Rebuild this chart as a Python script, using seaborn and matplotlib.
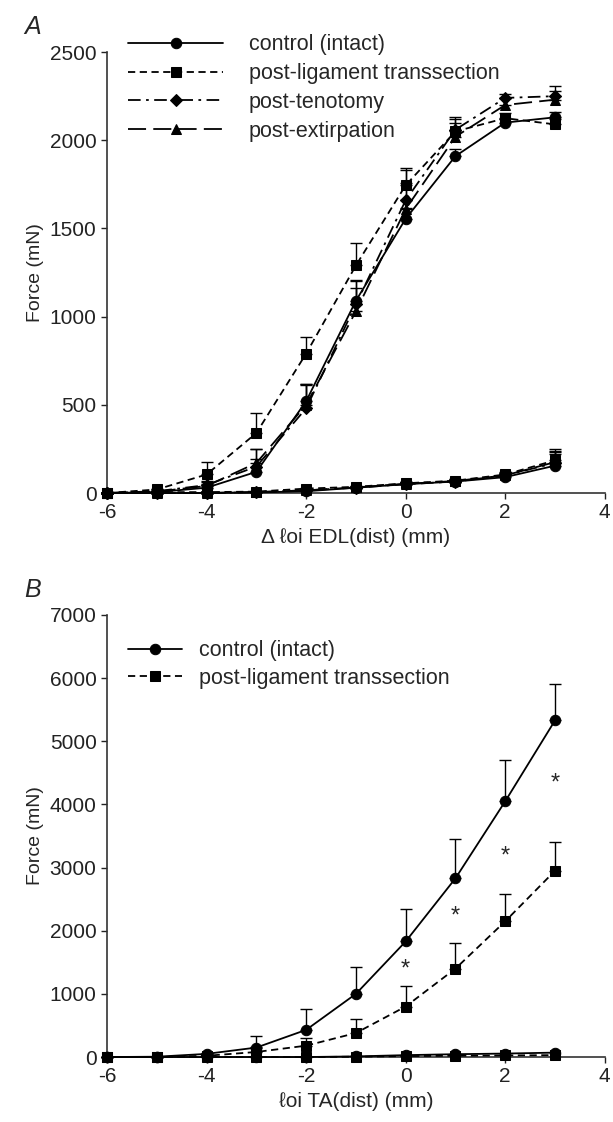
import numpy as np
import matplotlib
matplotlib.use("Agg")
import matplotlib.pyplot as plt
import seaborn as sns

# muscle length change (mm)
x_mm = [-6, -5, -4, -3, -2, -1, 0, 1, 2, 3]

# panel A, EDL: active force (mN) and upper SEM
a_ctrl = [0, 5, 30, 120, 520, 1090, 1555, 1910, 2100, 2130]
a_ctrl_sem = [0, 0, 20, 70, 90, 110, 60, 40, 20, 30]
a_lig = [0, 20, 105, 340, 790, 1290, 1745, 2050, 2125, 2090]
a_lig_sem = [0, 0, 70, 113, 95, 125, 100, 70, 30, 30]
a_ten = [0, 10, 45, 150, 480, 1070, 1660, 2060, 2240, 2250]
a_ten_sem = [0, 0, 25, 100, 140, 140, 170, 70, 20, 60]
a_ext = [0, 8, 40, 170, 500, 1030, 1610, 2020, 2200, 2230]
a_ext_sem = [0, 0, 25, 80, 120, 130, 150, 80, 40, 50]

# panel A, passive force
p_ctrl = [0, 0, 0, 3, 10, 30, 50, 65, 90, 155]
p_lig = [0, 5, 5, 8, 25, 35, 55, 70, 105, 185]
p_ten = [0, 0, 0, 5, 15, 30, 50, 65, 100, 170]
p_ext = [0, 0, 0, 5, 15, 32, 52, 68, 100, 175]
p_sem = [0, 0, 0, 0, 5, 5, 10, 10, 15, 65]

# panel B, TA
b_ctrl = [0, 5, 50, 150, 430, 1000, 1830, 2830, 4050, 5330]
b_ctrl_sem = [0, 0, 20, 190, 330, 420, 520, 630, 660, 570]
b_lig = [0, 0, 20, 80, 180, 380, 800, 1400, 2150, 2950]
b_lig_sem = [0, 0, 10, 80, 120, 230, 330, 400, 430, 450]
b_p_ctrl = [0, 0, 0, 0, 0, 10, 30, 45, 55, 70]
b_p_lig = [0, 0, 0, 0, 0, 5, 15, 20, 25, 30]

# significance stars in B
star_x = [0, 1, 2, 3]
star_y = [1390, 2220, 3180, 4330]

labels_a = ["control (intact)", "post-ligament transsection",
            "post-tenotomy", "post-extirpation"]

sns.set_style("ticks")
plt.rcParams["font.family"] = ["Liberation Sans", "DejaVu Sans"]
plt.rcParams["axes.unicode_minus"] = False

solid = "-"
short_dash = (0, (4, 2.5))
dash_dot = (0, (7, 3, 1.5, 3))
long_dash = (0, (10, 4))

fig = plt.figure(figsize=(6.13, 11.22), dpi=100)
axA = fig.add_axes([0.1746, 0.5606, 0.812, 0.393])
axB = fig.add_axes([0.1746, 0.0579, 0.812, 0.394])


def series(ax, y, sem, ls, mk, label=None):
    ms = 6.5 if mk in ("s", "D") else 7.5
    sns.lineplot(x=x_mm, y=y, ax=ax, color="k", linestyle=ls, marker=mk,
                 markersize=ms, markeredgecolor="k", linewidth=1.3,
                 label=label, clip_on=False, zorder=3)
    if sem is not None:
        ax.errorbar(x_mm, y, yerr=[np.zeros(len(sem)), sem], fmt="none",
                    ecolor="k", elinewidth=1, capsize=4.5, capthick=1,
                    clip_on=False, zorder=2)


# panel A
styles_a = [(solid, "o"), (short_dash, "s"), (dash_dot, "D"), (long_dash, "^")]
act_a = [(a_ctrl, a_ctrl_sem), (a_lig, a_lig_sem), (a_ten, a_ten_sem), (a_ext, a_ext_sem)]
pas_a = [p_ctrl, p_lig, p_ten, p_ext]
for (ls, mk), (y, s), lab in zip(styles_a, act_a, labels_a):
    series(axA, y, s, ls, mk, lab)
for (ls, mk), y in zip(styles_a, pas_a):
    series(axA, y, p_sem, ls, mk)

# panel B
series(axB, b_ctrl, b_ctrl_sem, solid, "o", labels_a[0])
series(axB, b_lig, b_lig_sem, short_dash, "s", labels_a[1])
series(axB, b_p_ctrl, None, solid, "o")
series(axB, b_p_lig, None, short_dash, "s")
for sx, sy in zip(star_x, star_y):
    axB.text(sx, sy, "*", ha="center", va="center", fontsize=17)

for ax in (axA, axB):
    ax.set_xlim(-6, 4)
    ax.set_xticks([-6, -4, -2, 0, 2, 4])
    sns.despine(ax=ax)
    ax.tick_params(labelsize=15, length=4, width=1, direction="out", colors="#222222")
    for sp in ("left", "bottom"):
        ax.spines[sp].set_linewidth(1.2)
        ax.spines[sp].set_color("#333333")
    ax.set_ylabel("Force (mN)", fontsize=14)

axA.set_ylim(0, 2500)
axA.set_yticks(range(0, 2501, 500))
axA.set_xlabel("Δ ℓoi EDL(dist) (mm)", fontsize=15)
axB.set_ylim(0, 7000)
axB.set_yticks(range(0, 7001, 1000))
axB.set_xlabel("ℓoi TA(dist) (mm)", fontsize=15)

hA, lA = axA.get_legend_handles_labels()
axA.legend(hA[:4], lA[:4], loc="upper left", bbox_to_anchor=(0.195, 0.977),
           bbox_transform=fig.transFigure, frameon=False, fontsize=15.5,
           handlelength=4.4, handletextpad=1.2, labelspacing=0.36, borderaxespad=0)
hB, lB = axB.get_legend_handles_labels()
axB.legend(hB[:2], lB[:2], loc="upper left", bbox_to_anchor=(0.195, 0.437),
           bbox_transform=fig.transFigure, frameon=False, fontsize=15.5,
           handlelength=2.5, handletextpad=0.8, labelspacing=0.3, borderaxespad=0)

fig.text(0.04, 0.976, "A", fontsize=18, style="italic", va="center")
fig.text(0.04, 0.474, "B", fontsize=18, style="italic", va="center")

fig.savefig("out.png", dpi=100)
